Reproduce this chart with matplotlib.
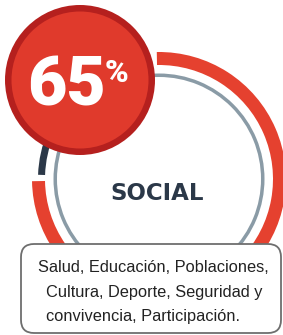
import matplotlib
matplotlib.use("Agg")
import matplotlib.pyplot as plt
from matplotlib.patches import Wedge, Circle, FancyBboxPatch

# --- Data ---
percent = 65
category = "SOCIAL"
# share of the ring drawn red vs dark
ring_share = [75, 25]
description = [
    "Salud, Educación, Poblaciones,",
    "Cultura, Deporte, Seguridad y",
    "convivencia, Participación.",
]

RED = "#e5412f"
RED_DARK = "#b5201e"
RED_FILL = "#e03a2c"
NAVY = "#2b3848"
GRAY = "#8a9ba6"

fig = plt.figure(figsize=(2.83, 3.35), dpi=100)
ax = fig.add_axes([0, 0, 1, 1])
ax.set_xlim(0, 283)
ax.set_ylim(335, 0)
ax.set_aspect("equal")
ax.axis("off")

# ring geometry (pixel units, y down)
cx, cy = 159, 179
r_out, r_in = 127, 114

# gray inner ring
ax.add_patch(Wedge((cx, cy), 105.5, 0, 360, width=3.5, color=GRAY, lw=0))

# red progress arc, starting at 12 o'clock and running clockwise
start = -91
span_red = 360 * ring_share[0] / sum(ring_share)
ax.add_patch(Wedge((cx, cy), r_out, start, start + span_red,
                   width=r_out - r_in, color=RED, lw=0))
# dark remainder (thinner)
gap = 3
ax.add_patch(Wedge((cx, cy), 121, start + span_red + gap, start + 360 - gap,
                   width=7, color=NAVY, lw=0))

# big percentage badge
bx, by = 80, 80
ax.add_patch(Circle((bx, by), 75, color=RED_DARK, lw=0, zorder=3))
ax.add_patch(Circle((bx, by), 68.5, color=RED_FILL, lw=0, zorder=4))
ax.text(66, 87, f"{percent}", color="white", fontsize=49, fontweight="black",
        family="Roboto", ha="center", va="center", zorder=5)
ax.text(117, 73, "%", color="white", fontsize=23, fontweight="black",
        family="Roboto", ha="center", va="center", zorder=5)

ax.text(157, 194, category, color=NAVY, fontsize=16.5, fontweight="bold",
        family="DejaVu Sans", ha="center", va="center", zorder=5)

# description box
box = FancyBboxPatch((21, 244), 260, 89,
                     boxstyle="round,pad=0,rounding_size=13",
                     fc="white", ec="#6e6e6e", lw=1.3, zorder=6)
ax.add_patch(box)
line_x = [153, 154, 143]
line_y = [268, 292, 316]
for txt, x, y in zip(description, line_x, line_y):
    ax.text(x, y, txt, color="#222222", fontsize=11.8,
            family="Liberation Sans",
            ha="center", va="center", zorder=7)

fig.savefig("out.png", dpi=100)
